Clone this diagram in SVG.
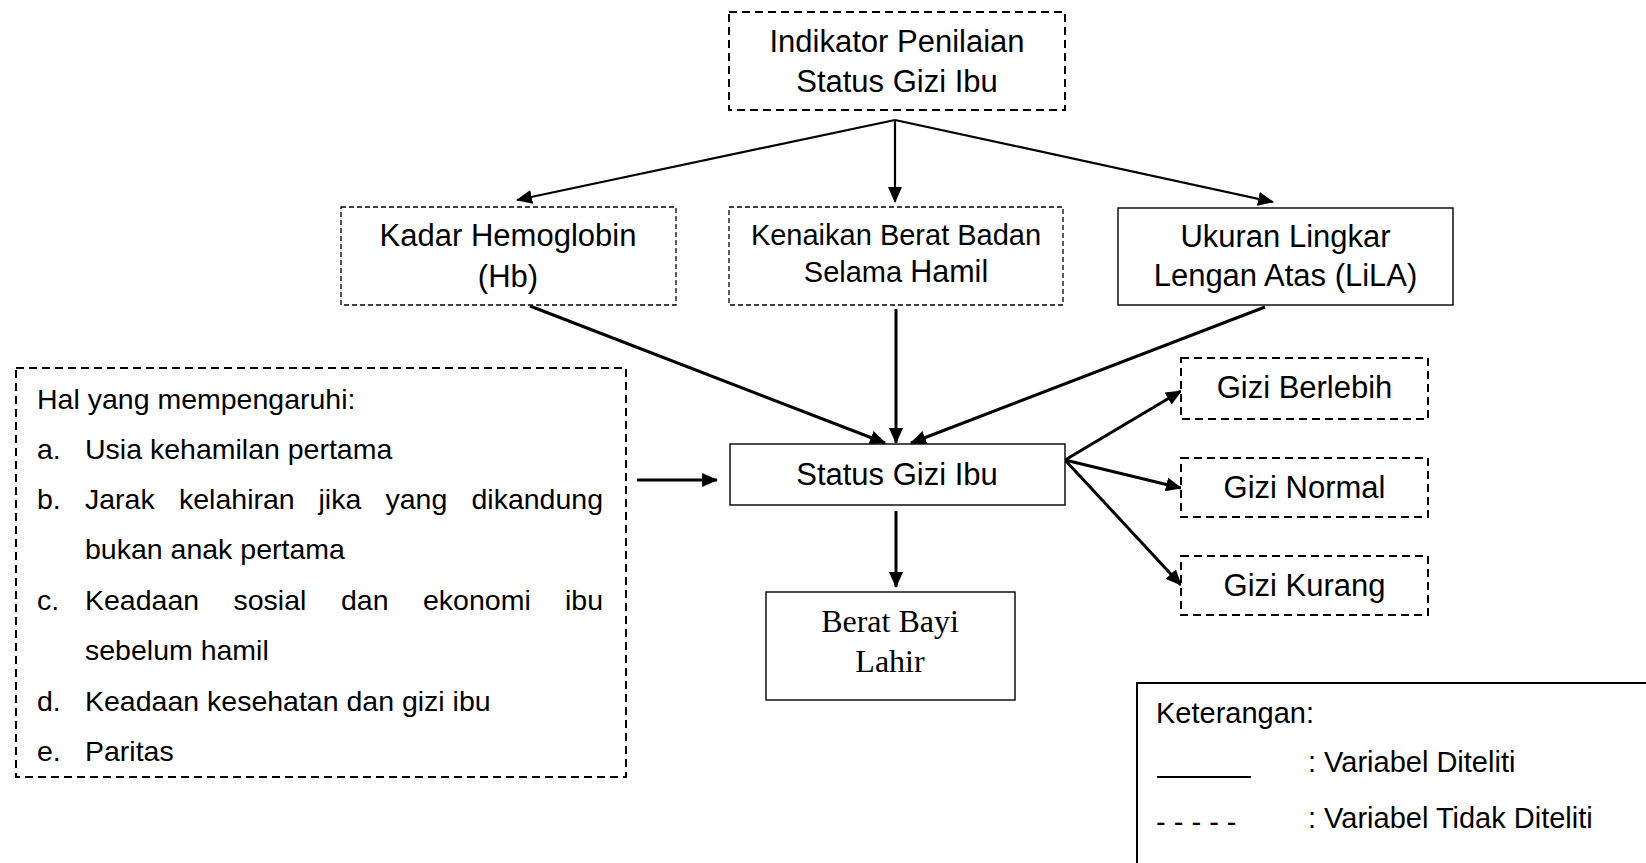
<svg xmlns="http://www.w3.org/2000/svg" width="1646" height="863" viewBox="0 0 1646 863">
<style>
  text { font-family: "Liberation Sans", Arial, sans-serif; fill: #000; }
  .serif { font-family: "Liberation Serif", "Times New Roman", serif; }
  .c { text-anchor: middle; }
  .box-thick-dash { fill: #fff; stroke: #000; stroke-width: 2; stroke-dasharray: 8 5; }
  .box-thin-dash { fill: #fff; stroke: #000; stroke-width: 1.3; stroke-dasharray: 5 3; }
  .box-solid { fill: #fff; stroke: #000; stroke-width: 1.4; }
  .arr { fill: none; stroke: #000; stroke-width: 2.2; marker-end: url(#ah); }
  .arr3 { fill: none; stroke: #000; stroke-width: 3; marker-end: url(#ah); }
  .f31 { font-size: 31px; }
  .f28 { font-size: 28.5px; }
</style>
<defs>
  <marker id="ah" markerUnits="userSpaceOnUse" markerWidth="16" markerHeight="14" refX="15" refY="7" orient="auto">
    <path d="M0,0 L16,7 L0,14 z" fill="#000"/>
  </marker>
</defs>

<g id="connectors">
  <line class="arr" x1="895" y1="120" x2="517" y2="200"/>
  <line class="arr" x1="895" y1="120" x2="895" y2="202"/>
  <line class="arr" x1="895" y1="120" x2="1273" y2="202"/>
  <line class="arr3" x1="530" y1="306" x2="885" y2="443"/>
  <line class="arr3" x1="896" y1="309" x2="896" y2="443"/>
  <line class="arr3" x1="1265" y1="307" x2="911" y2="443"/>
  <line class="arr3" x1="637" y1="480" x2="717" y2="480"/>
  <line class="arr3" x1="896" y1="511" x2="896" y2="587"/>
  <line class="arr3" x1="1065" y1="460" x2="1181" y2="391"/>
  <line class="arr3" x1="1065" y1="460" x2="1181" y2="488"/>
  <line class="arr3" x1="1065" y1="460" x2="1181" y2="585"/>
</g>

<g id="node-indikator">
  <rect class="box-thick-dash" x="729" y="12" width="336" height="98"/>
  <text class="c f31" x="897" y="52">Indikator Penilaian</text>
  <text class="c f31" x="897" y="92">Status Gizi Ibu</text>
</g>

<g id="node-hb">
  <rect class="box-thin-dash" x="341" y="207" width="335" height="98"/>
  <text class="c f31" x="508" y="246">Kadar Hemoglobin</text>
  <text class="c f31" x="508" y="287">(Hb)</text>
</g>

<g id="node-bb">
  <rect class="box-thin-dash" x="729" y="207" width="334" height="98"/>
  <text class="c" x="896" y="245" font-size="29">Kenaikan Berat Badan</text>
  <text class="c" x="896" y="282" font-size="29">Selama <tspan font-size="30.5">Hamil</tspan></text>
</g>

<g id="node-lila">
  <rect class="box-solid" x="1118" y="208" width="335" height="97"/>
  <text class="c f31" x="1285.5" y="247">Ukuran Lingkar</text>
  <text class="c f31" x="1285.5" y="286">Lengan Atas (LiLA)</text>
</g>

<g id="node-hal">
  <rect class="box-thick-dash" x="16" y="368" width="610" height="409"/>
  <text class="f28" x="37" y="409">Hal yang mempengaruhi:</text>
  <text class="f28" x="37" y="459">a.</text>
  <text class="f28" x="85" y="459">Usia kehamilan pertama</text>
  <text class="f28" x="37" y="509">b.</text>
  <text class="f28" y="509"><tspan x="85">Jarak</tspan><tspan x="179">kelahiran</tspan><tspan x="318.5">jika</tspan><tspan x="385.5">yang</tspan></text>
  <text class="f28" x="603" y="509" text-anchor="end">dikandung</text>
  <text class="f28" x="85" y="559">bukan anak pertama</text>
  <text class="f28" x="37" y="610">c.</text>
  <text class="f28" y="610"><tspan x="85">Keadaan</tspan><tspan x="233.5">sosial</tspan><tspan x="341">dan</tspan><tspan x="423">ekonomi</tspan></text>
  <text class="f28" x="603" y="610" text-anchor="end">ibu</text>
  <text class="f28" x="85" y="660">sebelum hamil</text>
  <text class="f28" x="37" y="711">d.</text>
  <text class="f28" x="85" y="711">Keadaan kesehatan dan gizi ibu</text>
  <text class="f28" x="37" y="761">e.</text>
  <text class="f28" x="85" y="761">Paritas</text>
</g>

<g id="node-status">
  <rect class="box-solid" x="730" y="444" width="335" height="61"/>
  <text class="c f31" x="897" y="485">Status Gizi Ibu</text>
</g>

<g id="node-berat">
  <rect class="box-solid" x="766" y="592" width="249" height="108"/>
  <text class="c serif" x="890" y="632" font-size="32">Berat Bayi</text>
  <text class="c serif" x="890" y="672" font-size="32">Lahir</text>
</g>

<g id="node-berlebih">
  <rect class="box-thick-dash" x="1181" y="358" width="247" height="61"/>
  <text class="c f31" x="1304.5" y="398">Gizi Berlebih</text>
</g>

<g id="node-normal">
  <rect class="box-thick-dash" x="1181" y="458" width="247" height="59"/>
  <text class="c f31" x="1304.5" y="498">Gizi Normal</text>
</g>

<g id="node-kurang">
  <rect class="box-thick-dash" x="1181" y="556" width="247" height="59"/>
  <text class="c f31" x="1304.5" y="596">Gizi Kurang</text>
</g>

<g id="legend">
  <rect x="1137" y="683" width="600" height="300" fill="#fff" stroke="#000" stroke-width="2"/>
  <text x="1156" y="723" font-size="29">Keterangan:</text>
  <line x1="1157" y1="777" x2="1251" y2="777" stroke="#000" stroke-width="2"/>
  <text x="1308" y="772" font-size="29">: Variabel Diteliti</text>
  <text x="1156" y="832" font-size="29">- - - - -</text>
  <text x="1308" y="828" font-size="29">: Variabel Tidak Diteliti</text>
</g>
</svg>
